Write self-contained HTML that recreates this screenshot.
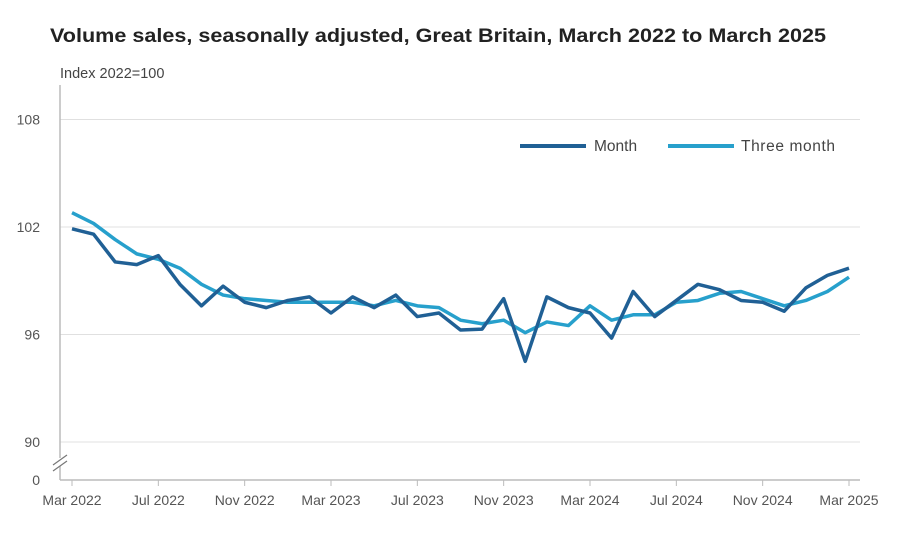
<!DOCTYPE html>
<html><head><meta charset="utf-8"><style>
body{margin:0;background:#fff;font-family:"Liberation Sans",sans-serif;}
text{font-family:"Liberation Sans",sans-serif;}
</style></head><body>
<svg id="chart" width="900" height="533">
<text x="50" y="42" font-size="19.5" font-weight="bold" fill="#222" textLength="776" lengthAdjust="spacingAndGlyphs">Volume sales, seasonally adjusted, Great Britain, March 2022 to March 2025</text>
<text x="60" y="78" font-size="14.5" fill="#444">Index 2022=100</text>
<g id="grid"></g>
<g id="axes"></g>
<g id="series"></g>
<g>
<line x1="520" y1="146" x2="586" y2="146" stroke="#206095" stroke-width="4"/>
<text x="594" y="151" font-size="15.5" fill="#444">Month</text>
<line x1="668" y1="146" x2="734" y2="146" stroke="#27a0cc" stroke-width="4"/>
<text x="741" y="151" font-size="15.5" fill="#444" textLength="94">Three month</text>
</g>
</svg>
<script>
const months=["Mar 2022","Apr 2022","May 2022","Jun 2022","Jul 2022","Aug 2022","Sep 2022","Oct 2022","Nov 2022","Dec 2022","Jan 2023","Feb 2023","Mar 2023","Apr 2023","May 2023","Jun 2023","Jul 2023","Aug 2023","Sep 2023","Oct 2023","Nov 2023","Dec 2023","Jan 2024","Feb 2024","Mar 2024","Apr 2024","May 2024","Jun 2024","Jul 2024","Aug 2024","Sep 2024","Oct 2024","Nov 2024","Dec 2024","Jan 2025","Feb 2025","Mar 2025"];
const monthValues=[101.9,101.6,100.05,99.9,100.4,98.8,97.6,98.7,97.8,97.5,97.9,98.1,97.2,98.1,97.5,98.2,97.0,97.2,96.25,96.3,98.0,94.5,98.1,97.5,97.2,95.8,98.4,97.0,97.9,98.8,98.5,97.9,97.8,97.3,98.6,99.3,99.7];
const threeMonthValues=[102.8,102.2,101.3,100.5,100.2,99.7,98.8,98.2,98.0,97.9,97.8,97.8,97.8,97.8,97.6,97.9,97.6,97.5,96.8,96.6,96.8,96.1,96.7,96.5,97.6,96.8,97.1,97.1,97.8,97.9,98.3,98.4,98.0,97.6,97.9,98.4,99.2];
const yTicks=[90,96,102,108];
const xTickLabels=["Mar 2022","Jul 2022","Nov 2022","Mar 2023","Jul 2023","Nov 2023","Mar 2024","Jul 2024","Nov 2024","Mar 2025"];
const NS="http://www.w3.org/2000/svg";
const x0=72,x1=849;
function xs(i){return x0+(x1-x0)*i/(months.length-1);}
function ys(v){return 227-(v-102)*(107.5/6);}
function mk(t,a,p){const e=document.createElementNS(NS,t);for(const k in a)e.setAttribute(k,a[k]);p.appendChild(e);return e;}
const grid=document.getElementById('grid'),axes=document.getElementById('axes'),ser=document.getElementById('series');
yTicks.forEach(v=>{
 const l=mk('line',{x1:60,x2:860,y1:ys(v),y2:ys(v),stroke:'#e0e0e0','stroke-width':1},grid);
 
 
 const t=mk('text',{x:40,y:ys(v)+5,'font-size':14,fill:'#555','text-anchor':'end'},axes);
 t.textContent=v;
 
 
});
const yl=mk('line',{x1:60,x2:60,y1:85,y2:480,stroke:'#bbb','stroke-width':1.5},axes);


const xl=mk('line',{x1:60,x2:860,y1:480,y2:480,stroke:'#bbb','stroke-width':1.5},axes);


const br2=mk('rect',{x:55,y:458,width:10,height:8,fill:'#fff'},axes);


const brk=mk('path',{d:'M53 465 L67 455 M53 471 L67 461',stroke:'#777','stroke-width':1.2,fill:'none'},axes);


const z=mk('text',{x:40,y:485,'font-size':14,fill:'#555','text-anchor':'end'},axes);
z.textContent='0';


xTickLabels.forEach(lb=>{
 const i=months.indexOf(lb);
 const tk=mk('line',{x1:xs(i),x2:xs(i),y1:480,y2:486,stroke:'#bbb'},axes);
 
 
 const t=mk('text',{x:xs(i),y:505,'font-size':14,fill:'#555','text-anchor':'middle'},axes);
 t.textContent=lb;
 
 
});
function line(vals,col,name){
 const p=mk('polyline',{points:vals.map((v,i)=>xs(i)+','+ys(v)).join(' '),fill:'none',stroke:col,'stroke-width':3.5,'stroke-linejoin':'round'},ser);
 
 
}
line(threeMonthValues,'#27a0cc','three-month-line');
line(monthValues,'#206095','month-line');
</script>
</body></html>
